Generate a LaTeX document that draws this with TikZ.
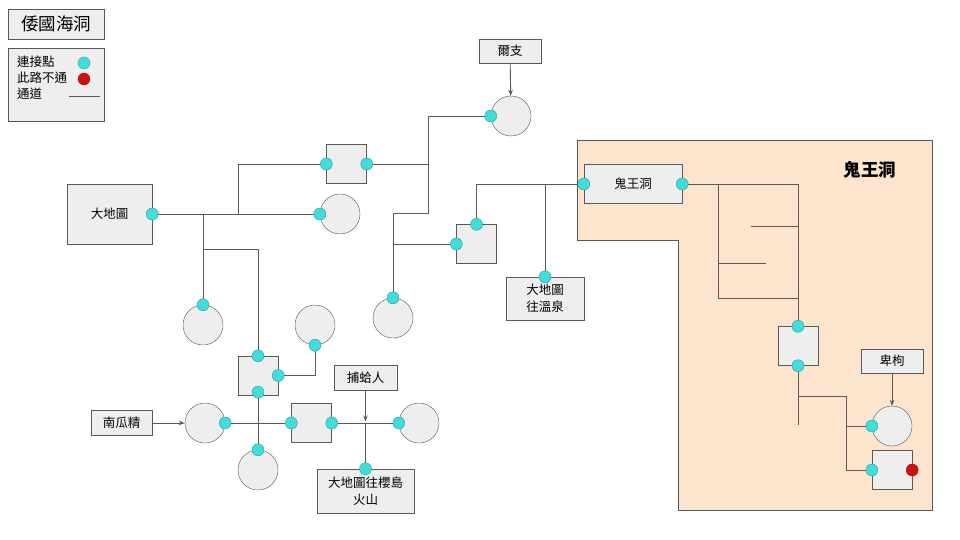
\documentclass[tikz,border=0pt]{standalone}
\usepackage{fontspec}
\setmainfont{Noto Sans CJK TC}
\usepackage{tikz}
\usetikzlibrary{arrows.meta}

\definecolor{boxgray}{HTML}{EEEEEE}
\definecolor{linegray}{HTML}{595959}
\definecolor{linkcyan}{HTML}{3FDEDA}
\definecolor{linkedge}{HTML}{2E9C9C}
\definecolor{stopred}{HTML}{CC1111}
\definecolor{stopedge}{HTML}{A01010}
\definecolor{cavepeach}{HTML}{FCE4CD}

\tikzset{
  room/.style={draw=linegray, fill=boxgray, circle, minimum size=40pt, inner sep=0pt},
  chamber/.style={draw=linegray, fill=boxgray, minimum width=40pt, minimum height=39pt, inner sep=0pt},
  place/.style={draw=linegray, fill=boxgray, inner sep=0pt, align=center,
    font=\fontsize{12.5}{17}\selectfont},
  link/.style={draw=linkedge, fill=linkcyan, circle, minimum size=12pt, inner sep=0pt},
  nogo/.style={draw=stopedge, fill=stopred, circle, minimum size=12pt, inner sep=0pt},
  passage/.style={draw=linegray, line width=0.9pt},
  pointer/.style={draw=linegray, line width=0.9pt, -{Stealth[length=6pt,width=4.5pt]}},
}

\begin{document}
\begin{tikzpicture}[x=1pt, y=-1pt]

      \useasboundingbox (0,0) rectangle (960,540);
      \fill[white] (0,0) rectangle (960,540);

      % title and legend
      \node (title)  at (56,24)   [place, minimum width=96pt, minimum height=30pt,
        font=\fontsize{17.5}{20}\selectfont] {倭國海洞};
      \node (legend) at (56,84.5) [place, minimum width=96pt, minimum height=73pt] {};
      \node (legend1) at (17,62) [anchor=west, inner sep=0pt, font=\fontsize{12.5}{15}\selectfont] {連接點};
      \node (legend2) at (17,78) [anchor=west, inner sep=0pt, font=\fontsize{12.5}{15}\selectfont] {此路不通};
      \node (legend3) at (17,94) [anchor=west, inner sep=0pt, font=\fontsize{12.5}{15}\selectfont] {通道};
      \node (legendlink) at (84,63) [link] {};
      \node (legendnogo) at (84,79) [nogo] {};
      \draw[passage] (69,96) -- (100,96);

      % cave of the ghost king
      \fill[cavepeach, draw=linegray, line width=0.9pt]
        (577,140) -- (932,140) -- (932,510) -- (678,510) -- (678,240) -- (577,240) -- cycle;
      \node (cavename) at (870,170) [font=\fontsize{17.5}{20}\selectfont\bfseries] {鬼王洞};

      % named places
      \node (erzhi)   at (510,51)     [place, minimum width=62pt, minimum height=24pt] {爾支};
      \node (bigmap)  at (109.5,214)  [place, minimum width=85pt, minimum height=60pt] {大地圖};
      \node (spring)  at (545,298.5)  [place, minimum width=78pt, minimum height=43pt] {大地圖\\往溫泉};
      \node (guiwang) at (633,184)    [place, minimum width=98pt, minimum height=39pt] {鬼王洞};
      \node (pumpkin) at (121.5,423)  [place, minimum width=61pt, minimum height=25pt] {南瓜精};
      \node (clam)    at (365.5,377.5)[place, minimum width=63pt, minimum height=25pt] {捕蛤人};
      \node (sakura)  at (365.5,491)  [place, minimum width=97pt, minimum height=44pt] {大地圖往櫻島\\火山};
      \node (beigou)  at (892,361)    [place, minimum width=62pt, minimum height=24pt] {卑枸};

      % rooms
      \node (room1) at (511,116) [room] {};
      \node (room2) at (340,214) [room] {};
      \node (room3) at (393,318) [room] {};
      \node (room4) at (203,325) [room] {};
      \node (room5) at (315,325) [room] {};
      \node (room6) at (205,423) [room] {};
      \node (room7) at (258,470) [room] {};
      \node (room8) at (419,423) [room] {};
      \node (room9) at (892,426) [room] {};

      % chambers
      \node (chamber1) at (346.5,164) [chamber] {};
      \node (chamber2) at (476.5,244) [chamber] {};
      \node (chamber3) at (258,375.5) [chamber] {};
      \node (chamber4) at (311.5,423) [chamber] {};
      \node (chamber5) at (798,346)   [chamber] {};
      \node (chamber6) at (892,470)   [chamber] {};

      % connection points
      \node (link1)  at (room1.west)     [link] {};
      \node (link2)  at (room2.west)     [link] {};
      \node (link3)  at (room3.north)    [link] {};
      \node (link4)  at (room4.north)    [link] {};
      \node (link5)  at (room5.south)    [link] {};
      \node (link6)  at (room6.east)     [link] {};
      \node (link7)  at (room7.north)    [link] {};
      \node (link8)  at (room8.west)     [link] {};
      \node (link9)  at (room9.west)     [link] {};
      \node (link1w) at (chamber1.west)  [link] {};
      \node (link1e) at (chamber1.east)  [link] {};
      \node (link2w) at (chamber2.west)  [link] {};
      \node (link2n) at (chamber2.north) [link] {};
      \node (link3n) at (chamber3.north) [link] {};
      \node (link3e) at (chamber3.east)  [link] {};
      \node (link3s) at ([yshift=3pt]chamber3.south) [link] {};
      \node (link4w) at (chamber4.west)  [link] {};
      \node (link4e) at (chamber4.east)  [link] {};
      \node (link5n) at (chamber5.north) [link] {};
      \node (link5s) at (chamber5.south) [link] {};
      \node (link6w) at (chamber6.west)  [link] {};
      \node (nogo6e) at (chamber6.east)  [nogo] {};
      \node (linkmap)     at (bigmap.east)   [link] {};
      \node (linkspring)  at (spring.north)  [link] {};
      \node (linkguiw)    at (guiwang.west)  [link] {};
      \node (linkguie)    at (guiwang.east)  [link] {};
      \node (linksakura)  at (sakura.north)  [link] {};

      % junctions
      \coordinate (fork1) at (238,214);
      \coordinate (fork2) at (203,214);
      \coordinate (fork3) at (203,249);
      \coordinate (bend1) at (428,213);
      \coordinate (bend2) at (393,213);
      \coordinate (fork4) at (393,244);
      \coordinate (fork5) at (718,184);
      \coordinate (bend3) at (798,298);
      \coordinate (stub1) at (751,226);
      \coordinate (stub2) at (718,263);
      \coordinate (deadend) at (798,425);
      \coordinate (fork6) at (798,396);
      \coordinate (bend4) at (846,470);
      \coordinate (fork7) at (846,426);
      \coordinate (hit)   at (365.5,423);

      % passages
      \draw[passage] (linkmap) -- (link2);
      \draw[passage] (fork1) |- (link1w);
      \draw[passage] (fork2) -- (link4);
      \draw[passage] (fork3) -| (link3n);
      \draw[passage] (link1) -| (bend1) -- (bend2) -- (link3);
      \draw[passage] (link1e) -- (link1e -| bend1);
      \draw[passage] (fork4) -- (link2w);
      \draw[passage] (link2n) |- (linkguiw);
      \draw[passage] (linkspring |- linkguiw) -- (linkspring);
      \draw[passage] (linkguie) -| (link5n);
      \draw[passage] (fork5) |- (bend3);
      \draw[passage] (stub1) -- (stub1 -| bend3);
      \draw[passage] (stub2) -- (766,263);
      \draw[passage] (link5s) -- (deadend);
      \draw[passage] (fork6) -| (bend4) -- (link6w);
      \draw[passage] (fork7) -- (link9);
      \draw[passage] (link3e) -| (link5);
      \draw[passage] (link3s) -- (link7);
      \draw[passage] (link6) -- (link4w);
      \draw[passage] (link4e) -- (link8);
      \draw[passage] (hit) -- (linksakura);

      % who stands where
      \draw[pointer] (erzhi) -- (room1);
      \draw[pointer] (pumpkin) -- (room6);
      \draw[pointer] (clam) -- ([yshift=1.5pt]hit);
      \draw[pointer] (beigou) -- (room9);

\end{tikzpicture}
\end{document}
